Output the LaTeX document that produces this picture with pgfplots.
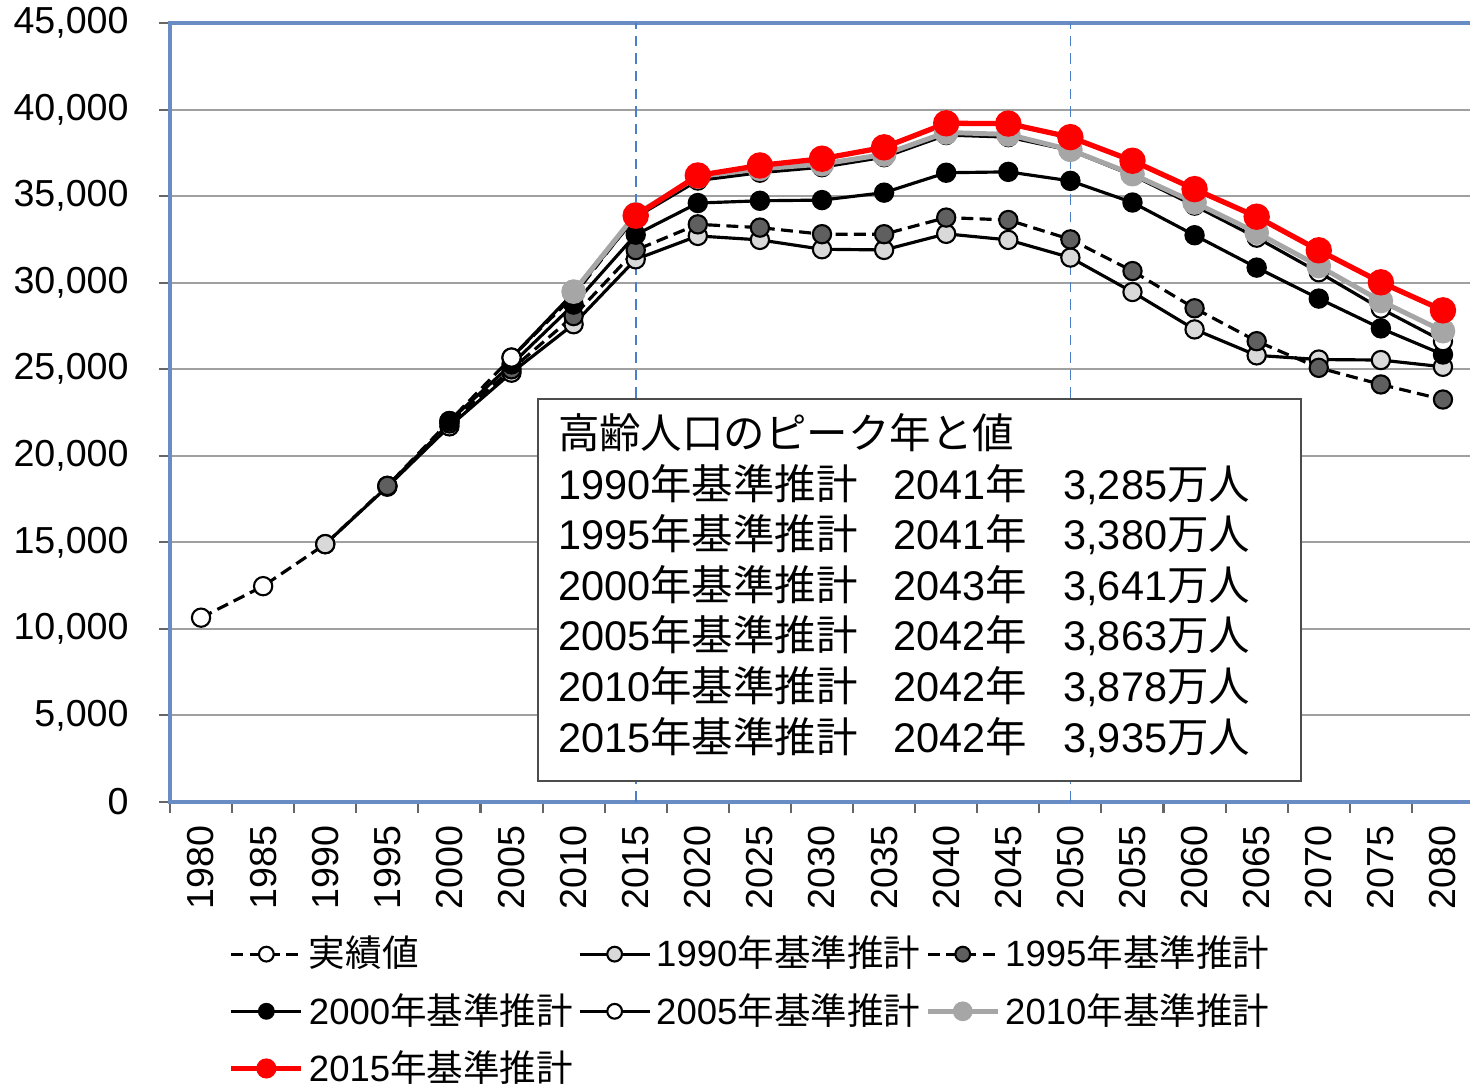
\documentclass[border=0pt]{standalone}
\usepackage{pgfplots}
\pgfplotsset{compat=1.18}
\usepackage{fontspec}
\setmainfont{Liberation Sans}
\newfontfamily\jp{Noto Sans CJK JP}

\definecolor{axblue}{HTML}{6A8CC4}
\definecolor{gridgray}{HTML}{A0A0A0}
\definecolor{lgray}{HTML}{D9D9D9}
\definecolor{dgray}{HTML}{5F5F5F}
\definecolor{mgray}{HTML}{A6A6A6}
\definecolor{refblue}{HTML}{4A7EC8}

\newcommand{\ticksize}{\fontsize{10.7}{12}\selectfont}
\newcommand{\legsize}{\fontsize{10.4}{12}\selectfont}

\begin{document}
\begin{tikzpicture}
\begin{axis}[
  scale only axis, width=13.04cm, height=7.79cm,
  at={(0,0)}, anchor=south west,
  xmin=-0.5, xmax=20.5, ymin=0, ymax=45000,
  xtick={-0.5,0.5,...,20.5}, x tick label as interval,
  xticklabels={1980,1985,1990,1995,2000,2005,2010,2015,2020,2025,2030,2035,2040,2045,2050,2055,2060,2065,2070,2075,2080},
  ytick={0,5000,...,45000}, scaled y ticks=false,
  /pgf/number format/assume math mode=true,
  /pgf/number format/1000 sep={,},
  ymajorgrids, major grid style={gridgray, line width=0.6pt},
  axis line style={axblue, line width=1.1pt},
  tick align=outside, xtick pos=left, ytick pos=left,
  major tick length=1.1mm,
  tick style={black!60, line width=0.6pt},
  ticklabel style={font=\ticksize},
  xticklabel style={rotate=90, anchor=east},
  yticklabel style={anchor=east, xshift=-1.8mm},
  legend columns=3,
  legend cell align=left,
  legend style={at={(0.0445,-0.1635)}, anchor=north west, draw=none, fill=none,
    inner sep=0pt, font=\legsize,
    nodes={inner xsep=0.5mm, inner ysep=0.6mm},
    /tikz/every even column/.append style={column sep=0mm},
    row sep=0.9mm},
  legend image code/.code={\draw[mark repeat=2,mark phase=2,#1,mark size=2.1pt] plot coordinates {(0cm,0cm) (0.35cm,0cm) (0.7cm,0cm)};},
]
% reference lines at 2015 and 2050
\addplot[refblue, densely dashed, line width=0.5pt, forget plot] coordinates {(7,0) (7,45000)};
\addplot[refblue, densely dashed, line width=0.5pt, forget plot] coordinates {(14,0) (14,45000)};

% actual
\addplot[black, line width=0.9pt, dash pattern=on 3.4pt off 1.8pt, mark=*, mark size=2.6pt,
  mark options={solid, fill=white, draw=black, line width=0.6pt}] coordinates {
(0,10647) (1,12468) (2,14895) (3,18261) (4,22005) (5,25672) (6,29246) (7,33868)
};
\addlegendentry{{\jp 実績値}}
% 1990 projection
\addplot[black, line width=0.9pt, mark=*, mark size=2.6pt,
  mark options={solid, fill=lgray, draw=black, line width=0.6pt}] coordinates {
(2,14895) (3,18213) (4,21699) (5,24800) (6,27600) (7,31350) (8,32700) (9,32470) (10,31930) (11,31890) (12,32820) (13,32470) (14,31450) (15,29460) (16,27300) (17,25800) (18,25560) (19,25530) (20,25140)
};
\addlegendentry{1990{\jp 年基準推計}}
% 1995 projection
\addplot[black, line width=0.9pt, dash pattern=on 3.4pt off 1.8pt, mark=*, mark size=2.6pt,
  mark options={solid, fill=dgray, draw=black, line width=0.6pt}] coordinates {
(3,18261) (4,21870) (5,24994) (6,28070) (7,31880) (8,33370) (9,33180) (10,32800) (11,32800) (12,33760) (13,33620) (14,32500) (15,30670) (16,28520) (17,26620) (18,25080) (19,24120) (20,23250)
};
\addlegendentry{1995{\jp 年基準推計}}
% 2000 projection
\addplot[black, line width=0.9pt, mark=*, mark size=2.6pt,
  mark options={solid, fill=black, draw=black, line width=0.6pt}] coordinates {
(4,22005) (5,25280) (6,28735) (7,32772) (8,34600) (9,34730) (10,34770) (11,35200) (12,36350) (13,36400) (14,35880) (15,34630) (16,32740) (17,30870) (18,29080) (19,27360) (20,25850)
};
\addlegendentry{2000{\jp 年基準推計}}
% 2005 projection
\addplot[black, line width=0.9pt, mark=*, mark size=2.6pt,
  mark options={solid, fill=white, draw=black, line width=0.6pt}] coordinates {
(5,25672) (6,29412) (7,33781) (8,35899) (9,36354) (10,36670) (11,37249) (12,38527) (13,38407) (14,37641) (15,36200) (16,34450) (17,32600) (18,30600) (19,28500) (20,26620)
};
\addlegendentry{2005{\jp 年基準推計}}
% 2010 projection
\addplot[mgray, line width=1.4pt, mark=*, mark size=2.8pt,
  mark options={solid, fill=mgray, draw=mgray}] coordinates {
(6,29484) (7,33952) (8,36124) (9,36573) (10,36849) (11,37407) (12,38678) (13,38564) (14,37676) (15,36270) (16,34630) (17,32890) (18,30960) (19,28940) (20,27200)
};
\addlegendentry{2010{\jp 年基準推計}}
% 2015 projection
\addplot[red, line width=1.5pt, mark=*, mark size=3pt,
  mark options={solid, fill=red, draw=red}] coordinates {
(7,33868) (8,36192) (9,36771) (10,37160) (11,37817) (12,39206) (13,39192) (14,38406) (15,37042) (16,35403) (17,33810) (18,31870) (19,30020) (20,28400)
};
\addlegendentry{2015{\jp 年基準推計}}

\node[draw=black!70, fill=white, line width=0.6pt, anchor=north west,
  inner xsep=2mm, inner ysep=1.4mm, text width=7.23cm, align=left]
  at (rel axis cs:0.2814,0.5186) {%
  \fontsize{11.8}{14.4}\selectfont
  \begin{tabular}{@{}l@{\hspace{3.6mm}}l@{\hspace{3.6mm}}l@{}}
  \multicolumn{3}{@{}l@{}}{\jp 高齢人口のピーク年と値}\\
  1990{\jp 年基準推計} & 2041{\jp 年} & 3,285{\jp 万人}\\
  1995{\jp 年基準推計} & 2041{\jp 年} & 3,380{\jp 万人}\\
  2000{\jp 年基準推計} & 2043{\jp 年} & 3,641{\jp 万人}\\
  2005{\jp 年基準推計} & 2042{\jp 年} & 3,863{\jp 万人}\\
  2010{\jp 年基準推計} & 2042{\jp 年} & 3,878{\jp 万人}\\
  2015{\jp 年基準推計} & 2042{\jp 年} & 3,935{\jp 万人}
  \end{tabular}};
\end{axis}
\pgfresetboundingbox
\path (-1.7cm,-2.84cm) rectangle (13.0cm,8.02cm);
\end{tikzpicture}
\end{document}
